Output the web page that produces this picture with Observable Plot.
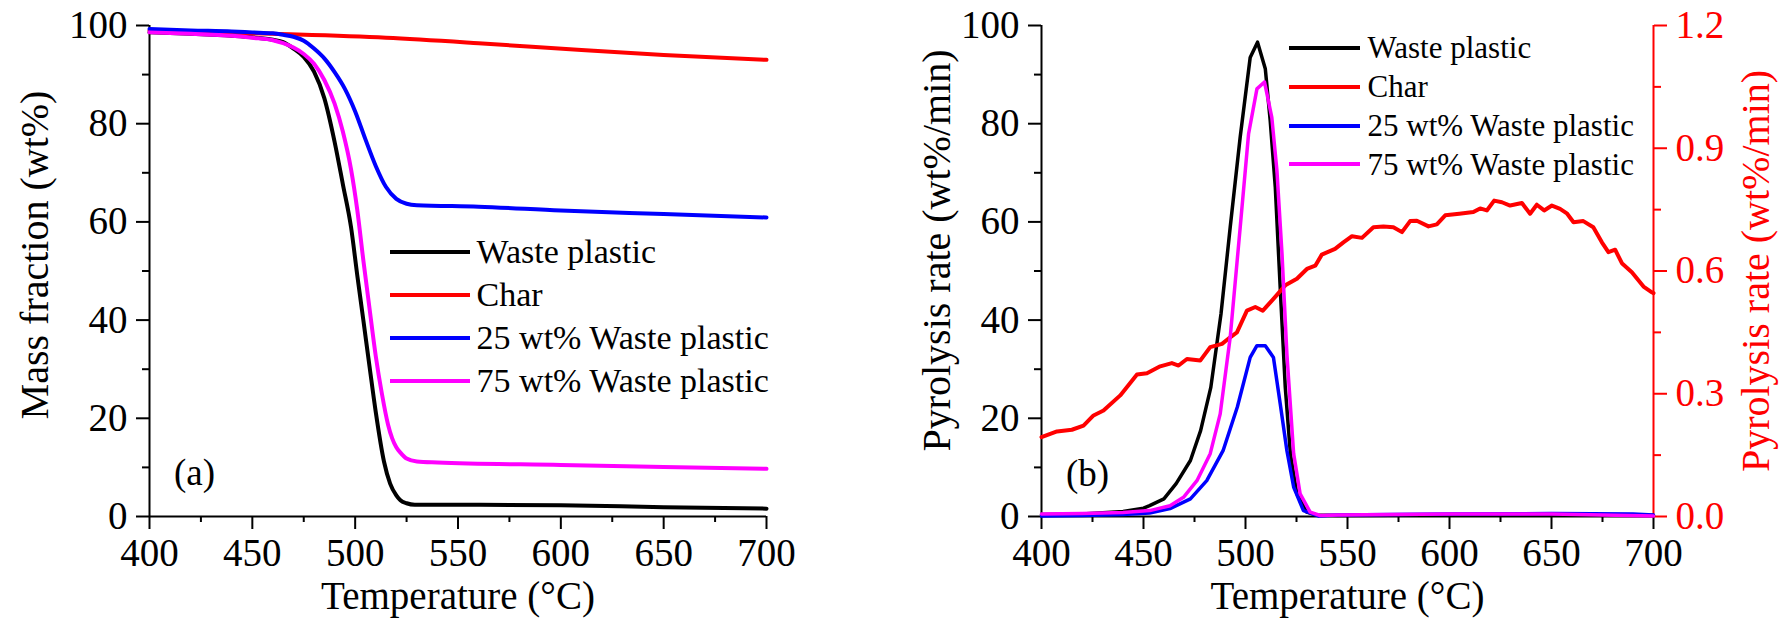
<!DOCTYPE html>
<html>
<head>
<meta charset="utf-8">
<script src="https://cdn.jsdelivr.net/npm/d3@7"></script>
<script src="https://cdn.jsdelivr.net/npm/@observablehq/plot@0.6"></script>
<style>
  html, body { margin: 0; padding: 0; background: #fff; }
  #wrap { position: relative; width: 1786px; height: 618px; overflow: hidden;
          font-family: "Liberation Serif", "Times New Roman", serif; color: #000; }
  #wrap svg, #wrap svg text { font-family: "Liberation Serif", "Times New Roman", serif !important; }
  #left, #right { position: absolute; top: 0; }
  #left { left: 0; }
  #right { left: 880px; }
  .row { position: absolute; display: flex; align-items: center; white-space: nowrap; }
  .row .sw { flex: none; }
  .row span { line-height: 1; }
  .tag { position: absolute; line-height: 1; white-space: nowrap; }
</style>
</head>
<body>
<div id="wrap">
  <div id="left"></div>
  <div id="right"></div>
</div>
<script>
// ---------- series names & colours ----------
const seriesNames = ["Waste plastic", "Char", "25 wt% Waste plastic", "75 wt% Waste plastic"];
const seriesColors = ["#000000", "#ff0000", "#0000ff", "#ff00ff"];

// ---------- axis ticks ----------
const xTicks = [400, 450, 500, 550, 600, 650, 700];
const xMinor = [425, 475, 525, 575, 625, 675];
const yTicks = [0, 20, 40, 60, 80, 100];
const yMinor = [10, 30, 50, 70, 90];
const rTicks = [0, 0.3, 0.6, 0.9, 1.2];
const rMinor = [0.15, 0.45, 0.75, 1.05];
const rMax = 1.2;

// ---------- (a) mass fraction, wt% ----------
const tgWasteT = [400,420,440,450,460,465,470,475,480,485,490,494,498,501,504,507,510,514,517,520,522,525,529,540,560,600,650,700];
const tgWasteV = [98.6,98.3,97.9,97.6,97.1,96.6,95.3,93.6,90.6,85.2,76.3,67.7,58.9,49.2,39.9,30.5,21.3,11.2,6.7,4.3,3.3,2.7,2.4,2.4,2.4,2.3,1.9,1.6];

const tgCharT = [400,460,515,560,610,650,700];
const tgCharV = [99.0,98.3,97.5,96.4,95.0,94.0,93.0];

const tg25T = [400,420,440,450,460,465,470,475,480,485,490,495,500,505,510,515,520,525,530,560,600,650,700];
const tg25V = [99.3,99.0,98.8,98.6,98.4,98.1,97.7,96.9,95.3,93.3,90.5,87.1,82.5,76.8,71.4,67.1,64.7,63.7,63.4,63.1,62.3,61.6,60.9];

const tg75T = [400,420,440,450,460,465,470,475,480,485,490,494,498,501,504,507,510,513,516,518,520,522,525,530,540,600,650,700];
const tg75V = [98.6,98.3,97.9,97.5,97.0,96.4,95.5,94.2,92.2,88.9,84.1,78.4,70.7,62.5,52.1,42.3,32.7,25.0,18.7,15.9,14.1,13.0,11.8,11.2,11.0,10.5,10.1,9.7];

// ---------- (b) pyrolysis rate, wt%/min ----------
const dtgWasteT = [400,420,440,450,453,460,466,473,478,483,488,492.5,497.4,502.3,505.9,509.7,512.1,514.6,517,519.5,522,525.2,530,535,545,600,650,700];
const dtgWasteV = [0.4,0.5,1.0,1.7,2.2,3.6,6.7,11.4,17.5,26.3,41.3,58.9,77.3,93.5,96.6,91.2,80.7,67.1,46.7,26.3,12.8,4.6,0.9,0.3,0.2,0.3,0.3,0.2];

const dtg25T = [400,420,440,453,463,473,481,489,496,502.3,505.6,509.7,513.7,517,520.3,523.6,528.4,536,545,600,650,690,700];
const dtg25V = [0.1,0.2,0.4,0.7,1.6,3.6,7.3,13.4,22.3,32.4,34.8,34.8,32.4,23.0,13.4,6.0,1.2,0.1,0.3,0.5,0.6,0.5,0.3];

const dtg75T = [400,420,440,453,463,469.6,476.2,482.7,487.6,492.5,497.4,501.5,505.6,509.3,512.9,515.4,517.9,520.3,523.6,526.8,531.7,536.6,545,600,650,700];
const dtg75V = [0.5,0.6,0.8,1.2,2.2,3.9,7.3,12.8,20.9,36.5,58.9,77.9,87.1,88.5,81.3,70.5,53.5,33.1,12.8,4.6,0.9,0.2,0.3,0.5,0.5,0.1];

// Char rate, right axis (wt%/min)
const dtgCharT = [400,407.6,414.9,420.6,425.5,430.4,438.6,446.8,451.7,458.2,463.9,467.2,471.3,477.8,482.7,488.5,492.5,495.8,500.7,504.8,508.5,513.7,519.5,525.2,530.1,534.2,537.4,543.9,548.0,552.2,557.1,562.7,567.6,572.5,576.7,580.7,584.0,589.7,593.8,597.9,604.8,611.7,615.0,618.3,621.9,625.7,629.7,635.5,639.5,642.8,646.4,650.2,654.2,657.5,660.8,665.6,670.5,674.7,677.9,681.2,684.5,689.4,695.1,699.2,700];
const dtgCharR = [0.194,0.208,0.212,0.222,0.247,0.259,0.296,0.347,0.350,0.367,0.375,0.369,0.385,0.381,0.414,0.422,0.438,0.450,0.503,0.512,0.503,0.532,0.565,0.581,0.605,0.613,0.640,0.654,0.670,0.685,0.681,0.707,0.709,0.707,0.695,0.722,0.723,0.709,0.714,0.736,0.740,0.744,0.753,0.748,0.772,0.768,0.760,0.766,0.740,0.762,0.748,0.760,0.752,0.741,0.719,0.722,0.707,0.670,0.646,0.652,0.619,0.597,0.562,0.548,0.546];

// ---------- helpers ----------
const rows = (T, V, name) => T.map((t, i) => ({T: t, v: V[i], name}));
const FONT = '"Liberation Serif", "Times New Roman", serif';
const TICK_FS = 39, TITLE_FS = 39;

function baseAxes() {
  return [
    Plot.ruleX([400], {strokeWidth: 2}),
    Plot.ruleY([0], {strokeWidth: 2}),
    Plot.axisX(xTicks, {tickSize: 13, tickPadding: 8.5, strokeWidth: 2, fontSize: TICK_FS, fontFamily: FONT, label: null}),
    Plot.axisX(xMinor, {tickSize: 6, strokeWidth: 2, fill: "none", label: null}),
    Plot.axisY(yTicks, {tickSize: 13, tickPadding: 9, strokeWidth: 2, fontSize: TICK_FS, fontFamily: FONT, label: null}),
    Plot.axisY(yMinor, {tickSize: 7, strokeWidth: 2, fill: "none", label: null}),
    Plot.text(["Temperature (°C)"], {text: d => d, frameAnchor: "bottom", textAnchor: "middle", lineAnchor: "middle", dy: 80, fontSize: TITLE_FS, fontFamily: FONT})
  ];
}

// ---------- panel (a) ----------
const left = Plot.plot({
  width: 800, height: 618,
  marginLeft: 149, marginRight: 34, marginTop: 25, marginBottom: 102,
  style: {fontFamily: FONT, background: "transparent", overflow: "visible", color: "#000"},
  x: {domain: [400, 700]},
  y: {domain: [0, 100]},
  marks: [
    ...baseAxes(),
    Plot.text(["Mass fraction (wt%)"], {text: d => d, frameAnchor: "left", textAnchor: "middle", rotate: -90, lineAnchor: "middle", dx: -114, dy: -16, fontSize: 40, fontFamily: FONT}),
    Plot.line(rows(tgWasteT, tgWasteV, seriesNames[0]), {x: "T", y: "v", stroke: seriesColors[0], strokeWidth: 4, curve: "monotone-x"}),
    Plot.line(rows(tgCharT, tgCharV, seriesNames[1]), {x: "T", y: "v", stroke: seriesColors[1], strokeWidth: 4, curve: "monotone-x"}),
    Plot.line(rows(tg25T, tg25V, seriesNames[2]), {x: "T", y: "v", stroke: seriesColors[2], strokeWidth: 4, curve: "monotone-x"}),
    Plot.line(rows(tg75T, tg75V, seriesNames[3]), {x: "T", y: "v", stroke: seriesColors[3], strokeWidth: 4, curve: "monotone-x"})
  ]
});
document.getElementById("left").appendChild(left);

// ---------- panel (b) ----------
const toLeft = r => r * 100 / rMax;   // right-axis value -> left-axis units
const right = Plot.plot({
  width: 906, height: 618,
  marginLeft: 161, marginRight: 133, marginTop: 25, marginBottom: 102,
  style: {fontFamily: FONT, background: "transparent", overflow: "visible", color: "#000"},
  x: {domain: [400, 700]},
  y: {domain: [0, 100]},
  marks: [
    ...baseAxes(),
    Plot.ruleX([700], {stroke: "#ff0000", strokeWidth: 2}),
    Plot.axisY(rTicks.map(toLeft), {anchor: "right", tickSize: 13, tickPadding: 9, strokeWidth: 2, color: "#ff0000",
      fontSize: TICK_FS, fontFamily: FONT, label: null, tickFormat: d => (d * rMax / 100).toFixed(1)}),
    Plot.axisY(rMinor.map(toLeft), {anchor: "right", tickSize: 7, strokeWidth: 2, stroke: "#ff0000", fill: "none", label: null}),
    Plot.text(["Pyrolysis rate (wt%/min)"], {text: d => d, frameAnchor: "left", textAnchor: "middle", rotate: -90, lineAnchor: "middle", dx: -104.5, dy: -20.5, fontSize: 40, fontFamily: FONT}),
    Plot.text(["Pyrolysis rate (wt%/min)"], {text: d => d, frameAnchor: "right", textAnchor: "middle", rotate: -90, lineAnchor: "middle", dx: 103, dy: 0, fontSize: 40, fontFamily: FONT, fill: "#ff0000"}),
    Plot.line(rows(dtgWasteT, dtgWasteV, seriesNames[0]), {x: "T", y: "v", stroke: seriesColors[0], strokeWidth: 3.5}),
    Plot.line(rows(dtgCharT, dtgCharR, seriesNames[1]), {x: "T", y: d => toLeft(d.v), stroke: seriesColors[1], strokeWidth: 4}),
    Plot.line(rows(dtg25T, dtg25V, seriesNames[2]), {x: "T", y: "v", stroke: seriesColors[2], strokeWidth: 3.5}),
    Plot.line(rows(dtg75T, dtg75V, seriesNames[3]), {x: "T", y: "v", stroke: seriesColors[3], strokeWidth: 3.5})
  ]
});
document.getElementById("right").appendChild(right);

// ---------- legends & panel tags (HTML text) ----------
const wrap = document.getElementById("wrap");
function legend(cfg) {
  seriesNames.forEach((name, i) => {
    const row = document.createElement("div");
    row.className = "row";
    row.style.left = cfg.left + "px";
    row.style.top = (cfg.centers[i] - cfg.fs / 2) + "px";
    row.style.height = cfg.fs + "px";
    row.style.fontSize = cfg.fs + "px";
    const sw = document.createElement("div");
    sw.className = "sw";
    sw.style.width = cfg.lineW + "px";
    sw.style.height = cfg.thick + "px";
    sw.style.background = seriesColors[i];
    sw.style.marginRight = cfg.gap + "px";
    const tx = document.createElement("span");
    tx.textContent = name;
    row.appendChild(sw); row.appendChild(tx);
    wrap.appendChild(row);
  });
}
legend({left: 389.6, centers: [252.3, 295, 338, 381], lineW: 80.5, gap: 6.5, fs: 34, thick: 4});
legend({left: 1289, centers: [47.7, 86.7, 125.7, 164.3], lineW: 71, gap: 7.5, fs: 31, thick: 4});

function tag(text, x, baseline, fs) {
  const el = document.createElement("div");
  el.className = "tag";
  el.style.fontSize = fs + "px";
  el.style.left = x + "px";
  el.style.top = (baseline - 0.8375 * fs) + "px";
  el.textContent = text;
  wrap.appendChild(el);
}
tag("(a)", 174, 485, 37);
tag("(b)", 1066, 486, 37);
</script>
</body>
</html>
